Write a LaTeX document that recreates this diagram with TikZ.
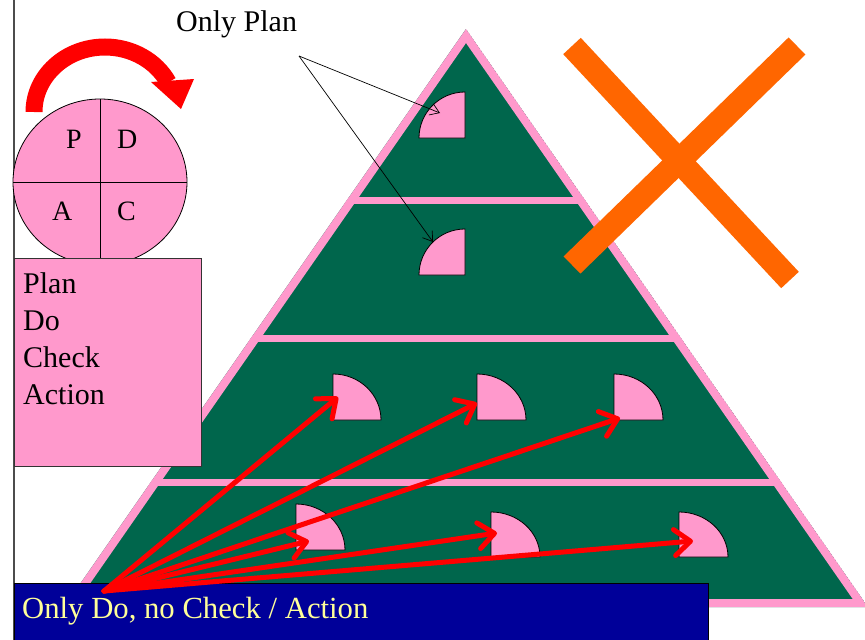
\documentclass[tikz,border=0pt]{standalone}
\usepackage{fontspec}
\setmainfont{Liberation Serif}
\usetikzlibrary{arrows.meta}
\definecolor{pinkc}{HTML}{FF99CC}
\definecolor{greenc}{RGB}{0,102,76}
\definecolor{bluec}{HTML}{000099}
\definecolor{orangec}{HTML}{FF6600}
\definecolor{redc}{HTML}{FF0000}
\definecolor{yellowc}{HTML}{FFFF99}
\tikzset{
  quarter/.style={fill=pinkc, draw=black, line width=0.8pt},
  redarrow/.style={draw=redc, line width=5pt, line cap=round, -{Straight Barb[length=16pt,width=26pt,round]}},
  thinarrow/.style={draw=black, line width=0.7pt, -{Straight Barb[length=9pt,width=12pt]}},
  bigtext/.style={font=\fontsize{30}{36}\selectfont, inner sep=0pt, anchor=base west},
  lettertext/.style={font=\fontsize{28}{34}\selectfont, inner sep=0pt, anchor=base west},
}
\begin{document}
\begin{tikzpicture}[x=1pt,y=-1pt]
\useasboundingbox (0,0) rectangle (865,640);
\fill[white] (0,0) rectangle (865,640);
% left rule
\draw[black!70, line width=1.2pt] (14,0) -- (14,640);
% pyramid
\begin{scope}
  \clip (466,29) -- (64,607) -- (868,607) -- cycle;
  \fill[greenc] (466,29) -- (64,607) -- (868,607) -- cycle;
  \draw[pinkc, line width=16pt] (466,29) -- (64,607) -- (868,607) -- cycle;
  \draw[pinkc, line width=7pt] (0,200) -- (865,200);
  \draw[pinkc, line width=7pt] (0,338) -- (865,338);
  \draw[pinkc, line width=7pt] (0,482) -- (865,482);
\end{scope}
% quarter discs
\path[quarter] (465,138) -- (465,92) arc[start angle=270, end angle=180, radius=46] -- cycle;
\path[quarter] (465,275) -- (465,229) arc[start angle=270, end angle=180, radius=46] -- cycle;
\path[quarter] (333,420) -- (333,374) arc[start angle=270, end angle=360, x radius=48, y radius=46] -- cycle;
\path[quarter] (477,420) -- (477,374) arc[start angle=270, end angle=360, x radius=49, y radius=46] -- cycle;
\path[quarter] (614,420) -- (614,374) arc[start angle=270, end angle=360, x radius=49, y radius=46] -- cycle;
\path[quarter] (296,550) -- (296,504) arc[start angle=270, end angle=360, x radius=49, y radius=46] -- cycle;
\path[quarter] (491,557) -- (491,512) arc[start angle=270, end angle=360, x radius=49, y radius=45] -- cycle;
\path[quarter] (679,557) -- (679,512) arc[start angle=270, end angle=360, x radius=49, y radius=45] -- cycle;
\coordinate (q1) at (440,113);
\coordinate (q2) at (433,242);
\coordinate (r1) at (338,397);
\coordinate (r2) at (477,403);
\coordinate (r3) at (620,418);
\coordinate (s1) at (309,541);
\coordinate (s2) at (497,533);
\coordinate (s3) at (693,541);
% orange X
\draw[orangec, line width=24pt] (572,46) -- (790,280);
\draw[orangec, line width=24pt] (797,46) -- (572,265);
% PDCA circle
\filldraw[fill=pinkc, draw=black, line width=0.8pt] (100,182) ellipse[x radius=87, y radius=83];
\draw[black, line width=0.8pt] (100,99) -- (100,258);
\draw[black, line width=0.8pt] (13,182) -- (187,182);
\node[lettertext] (P) at (66,148) {P};
\node[lettertext] (D) at (117,148) {D};
\node[lettertext] (A) at (52,220) {A};
\node[lettertext] (C) at (117,220) {C};
% red curved arrow
\draw[redc, line width=17pt] (34,112) arc[start angle=180, end angle=333, x radius=71, y radius=65];
\fill[redc] (151,82) -- (194,79) -- (181,109) -- cycle;
% PDCA box
\node[fill=pinkc, draw=black!80, line width=0.8pt, minimum width=187pt, minimum height=208pt, anchor=north west, inner sep=0pt] (box) at (14,258) {};
\node[bigtext] (plan) at (23,293) {Plan};
\node[bigtext] (do) at (23,330) {Do};
\node[bigtext] (check) at (23,367) {Check};
\node[bigtext] (action) at (23,404) {Action};
% Only Plan
\node[bigtext] (onlyplan) at (176,31) {Only Plan};
\coordinate (op) at (299,56);
\draw[thinarrow] (op) -- (q1);
\draw[thinarrow] (op) -- (q2);
% bottom blue box
\node[fill=bluec, draw=black, line width=0.6pt, minimum width=694pt, minimum height=60pt, anchor=north west, inner sep=0pt] (bluebox) at (14,583) {};
\node[bigtext, text=yellowc, font=\fontsize{30.7}{36}\selectfont] (onlydo) at (22,618) {Only Do, no Check / Action};
\coordinate (src) at (104,591);
\foreach \t in {r1,r2,r3,s1,s2,s3} \draw[redarrow] (src) -- (\t);
\end{tikzpicture}
\end{document}
